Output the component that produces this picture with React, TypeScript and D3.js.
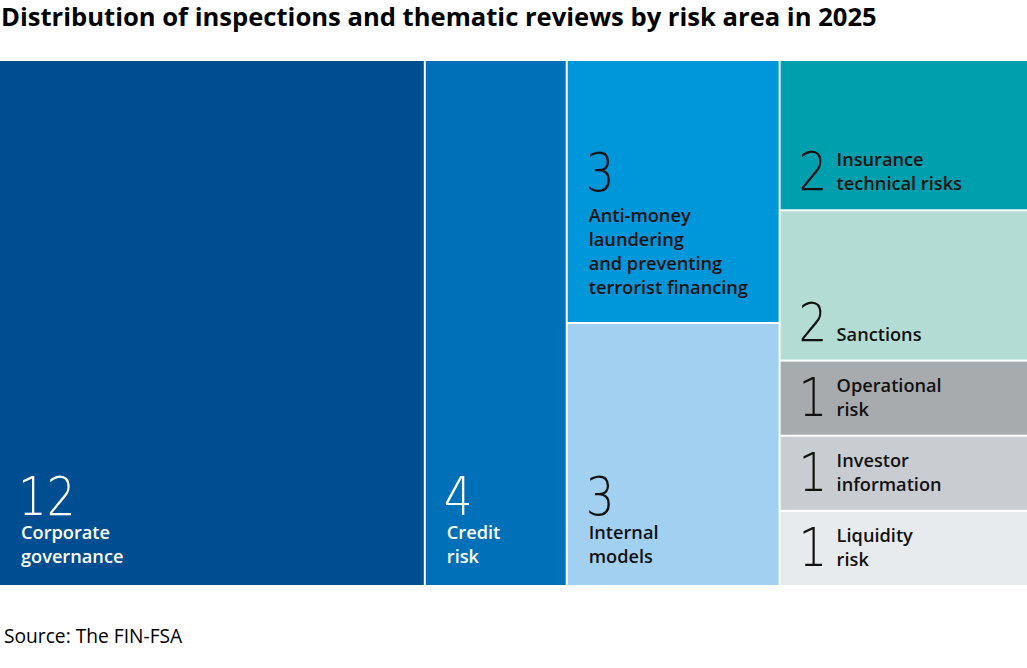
import React from "react";
import * as d3 from "d3";

const title = "Distribution of inspections and thematic reviews by risk area in 2025";
const source = "Source: The FIN-FSA";

const categories = [
  "Corporate governance",
  "Credit risk",
  "Anti-money laundering and preventing terrorist financing",
  "Internal models",
  "Insurance technical risks",
  "Sanctions",
  "Operational risk",
  "Investor information",
  "Liquidity risk",
];
const labelLines = [
  ["Corporate", "governance"],
  ["Credit", "risk"],
  ["Anti-money", "laundering", "and preventing", "terrorist financing"],
  ["Internal", "models"],
  ["Insurance", "technical risks"],
  ["Sanctions"],
  ["Operational", "risk"],
  ["Investor", "information"],
  ["Liquidity", "risk"],
];
const values = [12, 4, 3, 3, 2, 2, 1, 1, 1];
const columnGroup = [0, 1, 2, 2, 3, 3, 3, 3, 3];
const fills = [
  "#004e92",
  "#0070b9",
  "#0096da",
  "#a2d0f1",
  "#009fad",
  "#b3ddd4",
  "#a7abae",
  "#c9cdd1",
  "#e8ebee",
];
const textFills = ["#ffffff", "#ffffff", "#111111", "#111111", "#111111", "#111111", "#111111", "#111111", "#111111"];

const W = 1027;
const TOP = 61;
const H = 524;
const LABEL_FONT = "'Open Sans', 'Noto Sans', sans-serif";
const NUM_FONT = "'DejaVu Sans', sans-serif";

export default function App() {
  const groupIds = Array.from(new Set(columnGroup));
  const data = {
    name: "root",
    children: groupIds.map((g) => ({
      name: "g" + g,
      children: categories
        .map((c, i) => ({ name: c, index: i, value: values[i] }))
        .filter((d) => columnGroup[d.index] === g),
    })),
  };
  const root = d3
    .hierarchy<any>(data)
    .sum((d: any) => (d.children ? 0 : d.value));
  d3.treemap<any>().tile(d3.treemapSliceDice).size([W, H]).paddingInner(2)(root);
  const leaves = root.leaves() as any[];
  const lastGroup = groupIds[groupIds.length - 1];

  return (
    <div style={{ position: "absolute", left: 0, top: 0 }}>
      <svg width={1027} height={668} style={{ display: "block" }}>
        <rect width={1027} height={668} fill="#fff" />
        <text x={1} y={25.5} fontFamily={LABEL_FONT} fontWeight={700} fontSize={25.6} fill="#000">
          {title}
        </text>
        <g transform={`translate(0,${TOP})`}>
          {leaves.map((leaf) => {
            const i = leaf.data.index;
            const lines = labelLines[i];
            const inline = columnGroup[i] === lastGroup;
            const x0 = leaf.x0;
            const y1 = leaf.y1;
            const atBottom = Math.abs(y1 - H) < 1;
            let numX, numY, labX, lastBase;
            if (inline) {
              numX = x0 + 18;
              numY = y1 - 19;
              labX = x0 + 56;
              lastBase = numY;
            } else {
              lastBase = y1 - (atBottom ? 22 : 28);
              const fb = lastBase - 24 * (lines.length - 1);
              numX = x0 + 18;
              numY = fb - (lines.length > 2 ? 31 : 24);
              labX = x0 + 21;
            }
            const firstBase = lastBase - 24 * (lines.length - 1);
            return (
              <g key={i}>
                <rect
                  x={leaf.x0}
                  y={leaf.y0}
                  width={leaf.x1 - leaf.x0}
                  height={leaf.y1 - leaf.y0}
                  fill={fills[i]}
                />
                <text
                  transform={`translate(${numX},${numY}) scale(0.84,1)`}
                  fontFamily={NUM_FONT}
                  fontWeight={200}
                  fontSize={54}
                  fill={textFills[i]}
                >
                  {values[i]}
                </text>
                <text
                  x={labX}
                  fontFamily={LABEL_FONT}
                  fontWeight={600}
                  fontSize={18.2}
                  fill={textFills[i]}
                >
                  {lines.map((l, k) => (
                    <tspan key={k} x={labX} y={firstBase + k * 24}>
                      {l}
                    </tspan>
                  ))}
                </text>
              </g>
            );
          })}
        </g>
        <text x={4} y={643} fontFamily={LABEL_FONT} fontSize={19.2} fill="#000">
          {source}
        </text>
      </svg>
    </div>
  );
}
